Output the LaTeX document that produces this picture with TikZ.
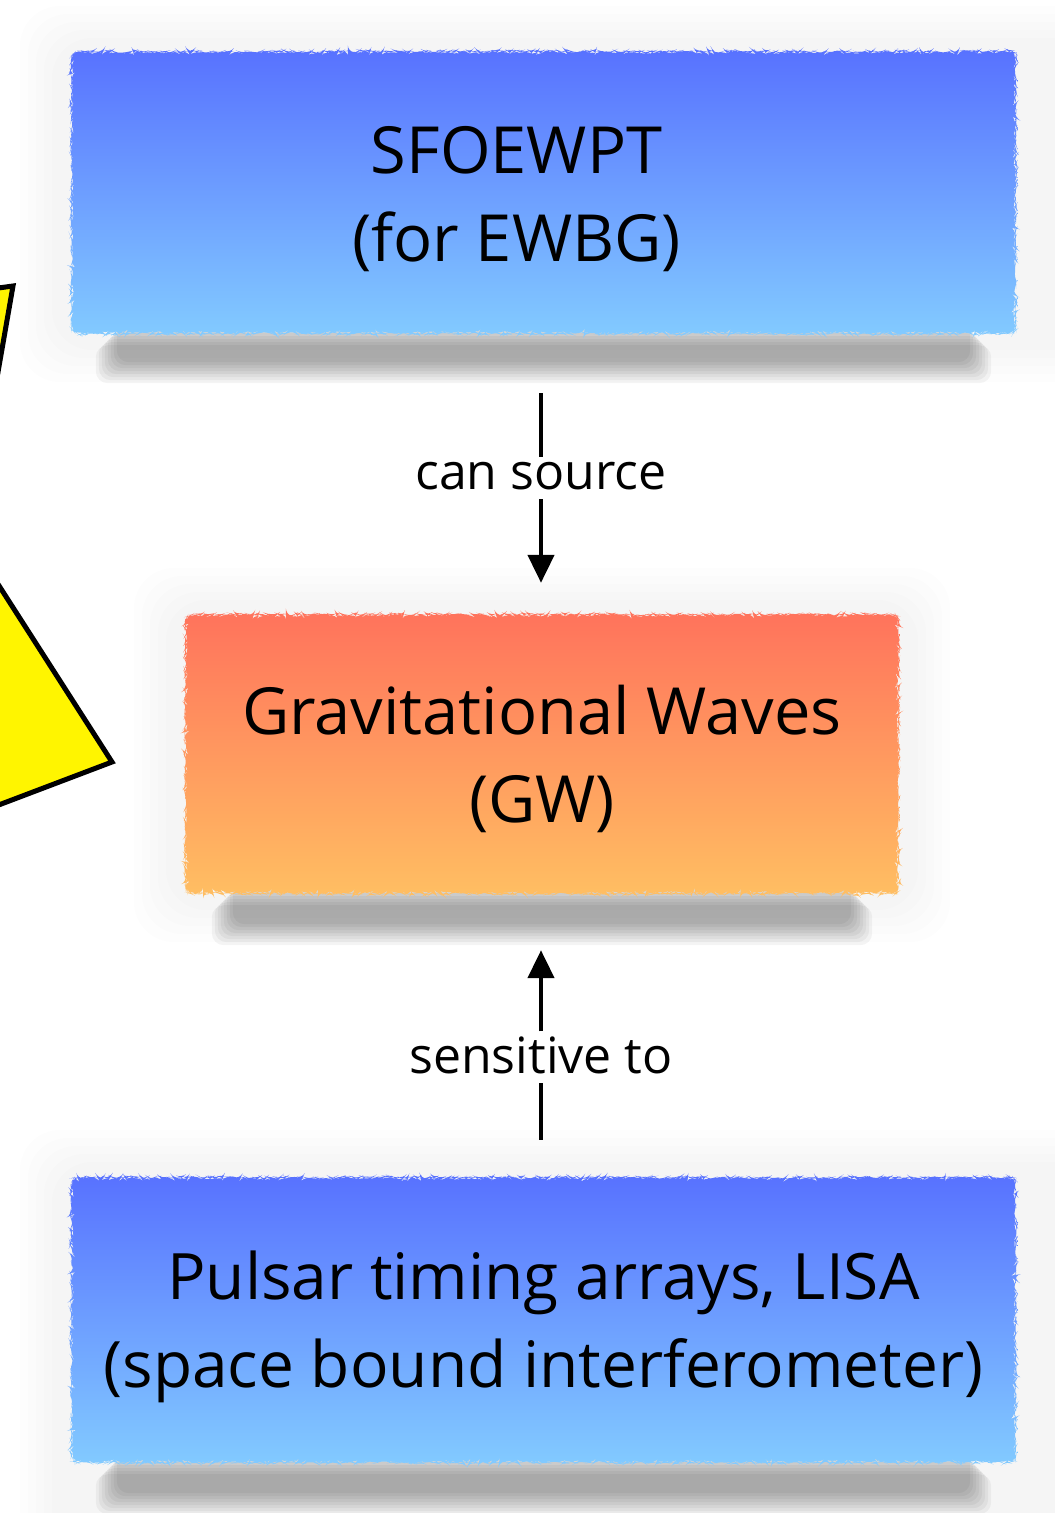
\documentclass[tikz,border=0pt]{standalone}
\usepackage{fontspec}
\setmainfont{Open Sans}
\usetikzlibrary{arrows.meta,decorations.pathmorphing}
\definecolor{bluetop}{HTML}{5872FF}
\definecolor{bluebot}{HTML}{82CAFF}
\definecolor{redtop}{HTML}{FF735C}
\definecolor{orangebot}{HTML}{FFBE62}
\definecolor{yel}{HTML}{FFF500}
\pgfdeclarelayer{bg}
\pgfsetlayers{bg,main}
\newcommand\lowr[1]{\raisebox{-7pt}[\height][\depth]{#1}}
\begin{document}
\begin{tikzpicture}[x=1pt,y=-1pt,
  boxtext/.style={inner sep=0pt, align=center, font=\fontsize{65}{88}\selectfont},
  lbl/.style={fill=white, inner xsep=3pt, inner ysep=5pt, text depth=4pt, font=\fontsize{50}{54}\selectfont},
  conn/.style={line width=4.5pt, -{Triangle[length=28pt,width=26pt]}},
  torn/.style={decorate, decoration={random steps, segment length=2.5pt, amplitude=1.3pt}, rounded corners=6pt},
  halo/.style={fill=black, fill opacity=0.007, rounded corners=40pt},
  shadowlayer/.style={fill=black, fill opacity=0.045, rounded corners=12pt},
  yshape/.style={fill=yel, draw=black, line width=5pt, line join=miter}]
\useasboundingbox (0,0) rectangle (1055,1513);
% nodes
\node[boxtext, minimum width=943pt, minimum height=281pt] (src) at (543.5,192.5)
  {\lowr{SFOEWPT}\hspace*{54pt}\\\lowr{(for EWBG)}\hspace*{54pt}};
\node[boxtext, minimum width=712pt, minimum height=278pt] (gw) at (542,754)
  {\raisebox{-5pt}[\height][\depth]{Gravitational Waves}\\\raisebox{-5pt}[\height][\depth]{(GW)}};
\node[boxtext, minimum width=943pt, minimum height=284pt, font=\fontsize{64}{88}\selectfont] (det) at (543.5,1320)
  {\lowr{Pulsar timing arrays, LISA}\\\lowr{(space bound interferometer)}};
\node[lbl] (l1) at (541,478) {can source};
\node[lbl] (l2) at (541,1057) {sensitive to};
\begin{pgfonlayer}{bg}
\fill[white] (0,0) rectangle (1055,1513);
% halos
\foreach \d in {0,8,16,24,32}{
  \path[halo] (52-\d,38-\d) rectangle (1100,350+\d);
  \path[halo] (166-\d,600-\d) rectangle (918+\d,910+\d);
  \path[halo] (52-\d,1162-\d) rectangle (1100,1550);
}
% yellow shapes (cut by the edge)
\begin{scope}
\clip (0,0) rectangle (1055,1513);
\path[yshape] (-60,296) -- (13,286) -- (-80,820) -- cycle;
\path[yshape] (-120,400) -- (112,762) -- (-120,850) -- cycle;
\end{scope}
% shadows
\foreach \d in {0,3,6,9,12,15,18,21}{
  \path[shadowlayer] ([xshift=24+\d, yshift=-12+\d]src.south west) rectangle ([xshift=-24-\d, yshift=-50+\d]src.south east);
  \path[shadowlayer] ([xshift=26+\d, yshift=-12+\d]gw.south west) rectangle ([xshift=-26-\d, yshift=-52+\d]gw.south east);
  \path[shadowlayer] ([xshift=24+\d, yshift=-12+\d]det.south west) rectangle ([xshift=-24-\d, yshift=-52+\d]det.south east);
}
% torn gradient boxes
\shade[torn, top color=bluetop, bottom color=bluebot] (src.north west) rectangle (src.south east);
\shade[torn, top color=redtop, bottom color=orangebot] (gw.north west) rectangle (gw.south east);
\shade[torn, top color=bluetop, bottom color=bluebot] (det.north west) rectangle (det.south east);
% connectors
\draw[line width=4.5pt, shorten <=60pt] (src.south -| l1) -- (l1.north);
\draw[conn, shorten >=32pt] (l1.south) -- (gw.north -| l1);
\draw[line width=4.5pt, shorten <=38pt] (det.north -| l2) -- (l2.south);
\draw[conn, shorten >=57pt] (l2.north) -- (gw.south -| l2);
\end{pgfonlayer}
\end{tikzpicture}
\end{document}
